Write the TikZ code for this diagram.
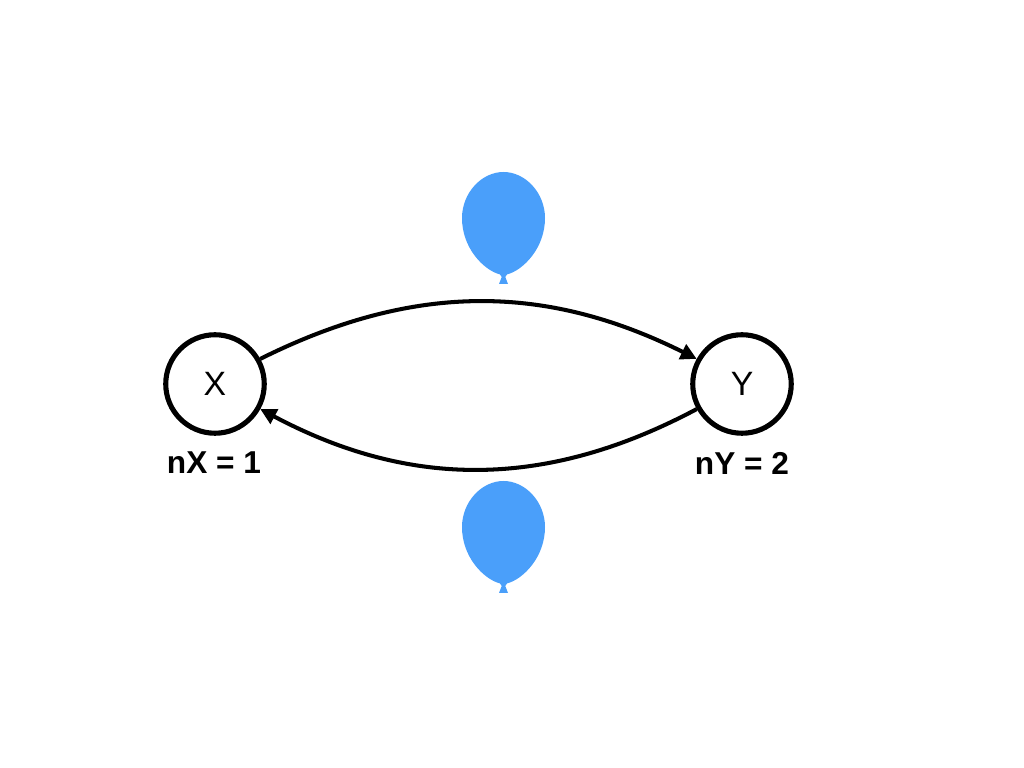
\documentclass[tikz,border=0pt]{standalone}
\usepackage{fontspec}
\setmainfont{Liberation Sans}
\usetikzlibrary{arrows.meta}
\definecolor{balloonblue}{HTML}{4A9FFA}
\tikzset{
  state/.style={circle,draw,line width=1.45pt,minimum size=0.985cm,inner sep=0pt,font=\fontsize{9.6}{11}\selectfont},
  count/.style={font=\fontsize{9}{11}\selectfont\bfseries},
  edge/.style={line width=1.15pt,-{Triangle[length=1.6mm,width=1.6mm]}},
  balloon/.pic={
    \fill[balloonblue] (0,0.46) .. controls (0.22,0.46) and (0.415,0.25) .. (0.415,0)
      .. controls (0.415,-0.3) and (0.2,-0.52) .. (0.035,-0.565)
      -- (0.018,-0.59) -- (0.045,-0.66) -- (-0.045,-0.66) -- (-0.018,-0.59) -- (-0.035,-0.565)
      .. controls (-0.2,-0.52) and (-0.415,-0.3) .. (-0.415,0)
      .. controls (-0.415,0.25) and (-0.22,0.46) .. (0,0.46) -- cycle;
  }
}
\begin{document}
\begin{tikzpicture}
        \useasboundingbox (0,0) rectangle (10.24,7.68);
        \node[state] (nX) at (2.15,3.84) {X};
        \node[state] (nY) at (7.42,3.84) {Y};
        \node[count] (labelX) at (2.14,3.05) {nX = 1};
        \node[count] (labelY) at (7.42,3.05) {nY = 2};
        % the two transfers
        \draw[edge] (nX.29) to[bend left=26.5] (nY.151);
        \draw[edge] (nY.209) to[bend left=28] (nX.-29);
        % balloons above and below
        \pic at (5.035,5.5) {balloon};
        \pic at (5.035,2.41) {balloon};
      \end{tikzpicture}
\end{document}
